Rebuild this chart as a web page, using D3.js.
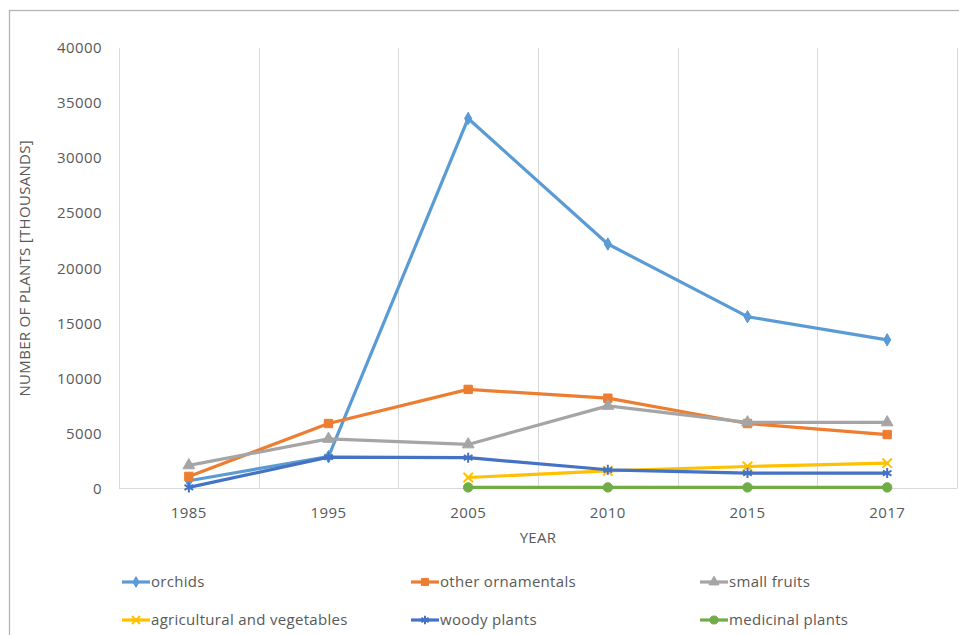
<!DOCTYPE html>
<html>
<head>
<meta charset="utf-8">
<script src="https://cdn.jsdelivr.net/npm/d3@7"></script>
<style>
  body { margin: 0; background: #fff; }
  svg { display: block; font-family: "Open Sans", sans-serif; }
</style>
</head>
<body>
<svg id="chart" width="959" height="635"></svg>
<script>
const years = ["1985", "1995", "2005", "2010", "2015", "2017"];
const yTicks = [0, 5000, 10000, 15000, 20000, 25000, 30000, 35000, 40000];

const orchids = [700, 2900, 33600, 22200, 15600, 13500];
const otherOrnamentals = [1100, 5900, 9000, 8200, 5900, 4900];
const smallFruits = [2100, 4500, 4000, 7500, 6000, 6000];
const agricultural = [null, null, 1000, 1600, 2000, 2300];
const woodyPlants = [100, 2850, 2800, 1700, 1400, 1400];
const medicinalPlants = [null, null, 100, 100, 100, 100];

const seriesNames = ["orchids", "other ornamentals", "small fruits", "agricultural and vegetables", "woody plants", "medicinal plants"];
const seriesColors = ["#5B9BD5", "#ED7D31", "#A5A5A5", "#FFC000", "#4472C4", "#70AD47"];

(function draw() {
  const svg = d3.select("#chart");
  const textColor = "#595959";
  const plot = { left: 119, right: 957, top: 48, bottom: 488.5 };

  const series = [orchids, otherOrnamentals, smallFruits, agricultural, woodyPlants, medicinalPlants]
    .map((values, i) => ({ name: seriesNames[i], color: seriesColors[i], values, idx: i }));

  // chart frame
  svg.append("rect")
    .attr("x", 9.5).attr("y", 10.5)
    .attr("width", 970).attr("height", 650)
    .attr("fill", "none").attr("stroke", "#b4b4b4").attr("stroke-width", 1.3);

  const x = d3.scaleBand().domain(years).range([plot.left, plot.right]).padding(0);
  const y = d3.scaleLinear().domain([0, 40000]).range([plot.bottom, plot.top]);

  // vertical gridlines on category boundaries
  const bounds = years.map(d => x(d)).concat([plot.right]);
  svg.append("g").selectAll("line").data(bounds).join("line")
    .attr("x1", d => Math.round(d) + 0.5).attr("x2", d => Math.round(d) + 0.5)
    .attr("y1", plot.top).attr("y2", plot.bottom)
    .attr("stroke", "#d9d9d9").attr("stroke-width", 1);

  // base axis line
  svg.append("line")
    .attr("x1", plot.left).attr("x2", plot.right)
    .attr("y1", plot.bottom).attr("y2", plot.bottom)
    .attr("stroke", "#d9d9d9").attr("stroke-width", 1);

  // y tick labels
  svg.append("g").selectAll("text").data(yTicks).join("text")
    .attr("x", 102).attr("y", d => y(d))
    .attr("dy", "0.35em")
    .attr("text-anchor", "end")
    .attr("fill", textColor)
    .style("font-size", "15px")
    .style("letter-spacing", "0.4px")
    .text(d => d);

  // x tick labels
  svg.append("g").selectAll("text").data(years).join("text")
    .attr("x", d => x(d) + x.bandwidth() / 2).attr("y", 513)
    .attr("dy", "0.35em")
    .attr("text-anchor", "middle")
    .attr("fill", textColor)
    .style("font-size", "15px")
    .style("letter-spacing", "0.4px")
    .text(d => d);

  // axis titles
  svg.append("text")
    .attr("x", (plot.left + plot.right) / 2).attr("y", 538)
    .attr("dy", "0.35em")
    .attr("text-anchor", "middle")
    .attr("fill", textColor)
    .style("font-size", "15px")
    .style("letter-spacing", "0.3px")
    .text("YEAR");

  svg.append("text")
    .attr("transform", `translate(25,${(plot.top + plot.bottom) / 2}) rotate(-90)`)
    .attr("dy", "0.35em")
    .attr("text-anchor", "middle")
    .attr("fill", textColor)
    .style("font-size", "15px")
    .style("letter-spacing", "0.3px")
    .text("NUMBER OF PLANTS [THOUSANDS]");

  const symbolTypes = [d3.symbolDiamond, d3.symbolSquare, d3.symbolTriangle, d3.symbolX, d3.symbolAsterisk, d3.symbolCircle];
  const symbolSizes = [45, 70, 60, 60, 70, 70];
  const stroked = [false, false, false, true, true, false];

  function drawMarker(g, i, cx, cy, scale) {
    const sym = d3.symbol().type(symbolTypes[i]).size(symbolSizes[i] * scale * scale);
    g.append("path")
      .attr("d", sym())
      .attr("transform", `translate(${cx},${cy})`)
      .attr("fill", stroked[i] ? "none" : series[i].color)
      .attr("stroke", series[i].color)
      .attr("stroke-width", stroked[i] ? 2 : 1);
  }

  const line = d3.line()
    .defined(d => d.v != null)
    .x(d => x(d.year) + x.bandwidth() / 2)
    .y(d => y(d.v));

  series.forEach(s => {
    const pts = s.values.map((v, j) => ({ year: years[j], v }));
    const g = svg.append("g");
    g.append("path")
      .datum(pts)
      .attr("d", line)
      .attr("fill", "none")
      .attr("stroke", s.color)
      .attr("stroke-width", 3.2)
      .attr("stroke-linejoin", "round")
      .attr("stroke-linecap", "round");
    pts.filter(p => p.v != null).forEach(p => {
      drawMarker(g, s.idx, x(p.year) + x.bandwidth() / 2, y(p.v), 1);
    });
  });

  // legend
  const legendCols = [122, 411, 700];
  const legendRows = [582, 620];
  series.forEach((s, i) => {
    const lx = legendCols[i % 3];
    const ly = legendRows[Math.floor(i / 3)];
    const g = svg.append("g");
    g.append("line")
      .attr("x1", lx).attr("x2", lx + 28)
      .attr("y1", ly).attr("y2", ly)
      .attr("stroke", s.color).attr("stroke-width", 3.2);
    drawMarker(g, i, lx + 14, ly, 0.85);
    g.append("text")
      .attr("x", lx + 29).attr("y", ly)
      .attr("dy", "0.35em")
      .attr("fill", textColor)
      .style("font-size", "15px")
      .style("letter-spacing", "0.3px")
      .text(s.name);
  });
})();
</script>
</body>
</html>
